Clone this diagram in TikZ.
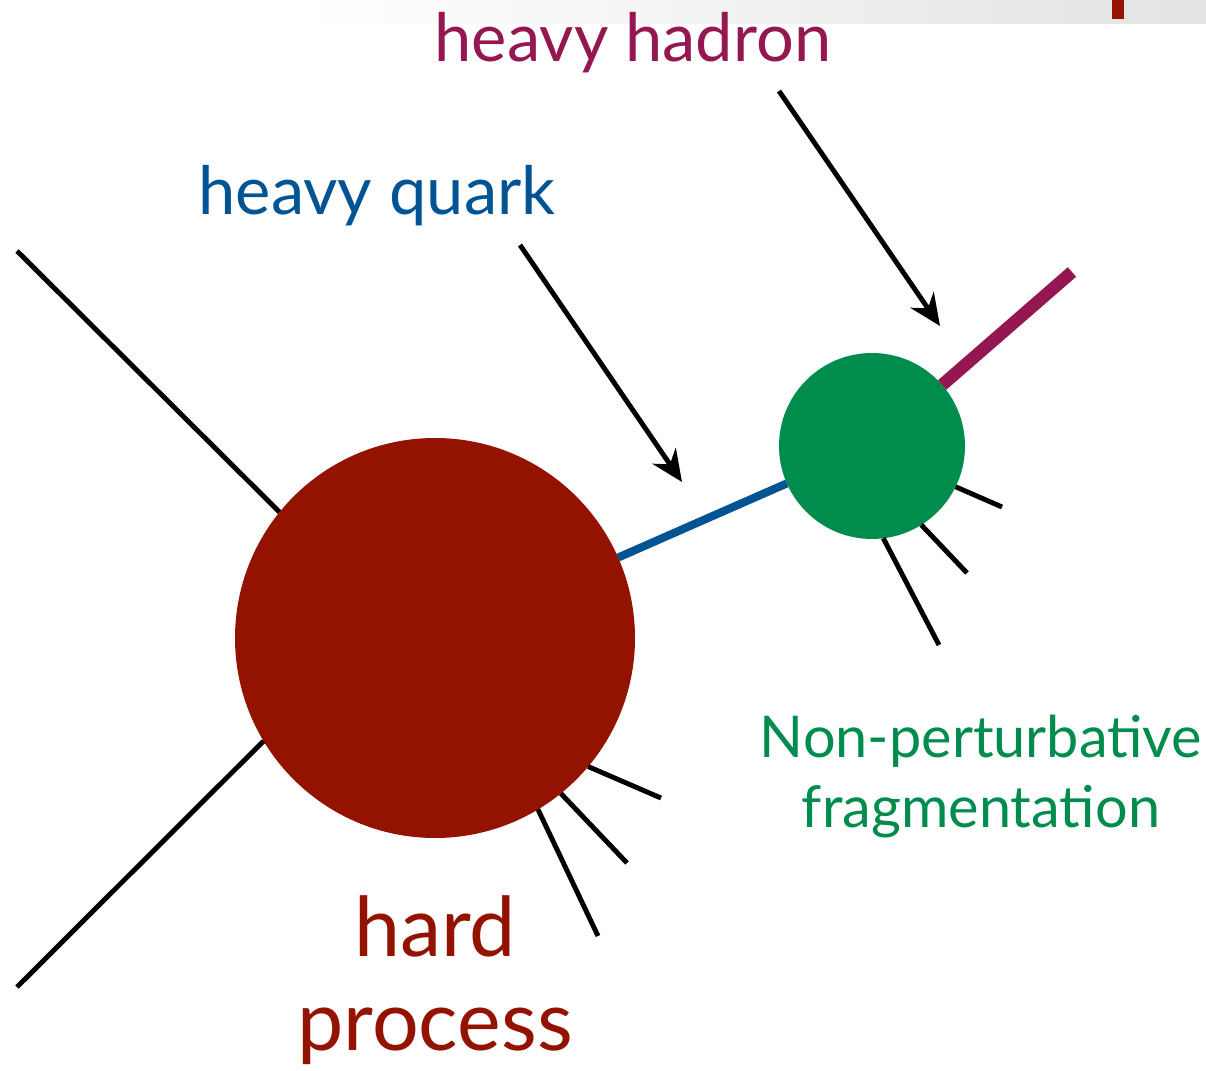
\documentclass[tikz,border=0pt]{standalone}
\usepackage{fontspec}
\setmainfont{Lato}
\usetikzlibrary{arrows.meta}
\definecolor{HardRed}{RGB}{147,18,0}
\definecolor{FragGreen}{RGB}{0,140,76}
\definecolor{QuarkBlue}{RGB}{0,84,147}
\definecolor{HadronPurple}{RGB}{148,23,81}

\begin{document}
\begin{tikzpicture}[
  blob/.style={
    circle,
    draw=none,
    inner sep=0pt,
    outer sep=0pt
  },
  hardblob/.style={blob, fill=HardRed, minimum size=4.0cm},
  fragblob/.style={blob, fill=FragGreen, minimum size=1.86cm},
  leg/.style={line width=1.4pt, black},
  quark/.style={line width=2.3pt, QuarkBlue},
  hadron/.style={line width=3.6pt, HadronPurple},
  pointer/.style={
    -{Stealth[length=9pt, width=8pt]},
    line width=1.4pt,
    black
  },
  label/.style={anchor=base, align=center, inner sep=0pt}
]
\useasboundingbox (0,0) rectangle (12.06,10.70);

% Slide header strip
\shade[left color=white, right color=black!11] (3.0,10.46) rectangle (12.06,10.70);
\fill[HardRed] (11.12,10.51) rectangle (11.24,10.70);

% Blobs
\node[hardblob] (hard) at (4.35,4.32) {};
\node[fragblob] (frag) at (8.72,6.24) {};

% Free ends
\coordinate (inA)   at (0.17,8.19);
\coordinate (inB)   at (0.17,0.83);
\coordinate (hadA)  at (10.72,7.98);
\coordinate (jetA)  at (6.61,2.72);
\coordinate (jetB)  at (6.27,2.07);
\coordinate (jetC)  at (5.98,1.34);
\coordinate (remA)  at (10.02,5.63);
\coordinate (remB)  at (9.67,4.97);
\coordinate (remC)  at (9.39,4.25);
\coordinate (qtail) at (5.20,8.25);
\coordinate (qhead) at (6.82,5.88);
\coordinate (htail) at (7.79,9.79);
\coordinate (hhead) at (9.40,7.44);

% Incoming legs
\draw[leg] (inA) -- (hard.141.6);
\draw[leg] (inB) -- (hard.211);

% Radiation off the hard process
\draw[leg] (hard.-40.9) -- (jetA);
\draw[leg] (hard.-51.6) -- (jetB);
\draw[leg] (hard.-59.8) -- (jetC);

% Quark and hadron lines
\draw[quark] (hard) -- (frag);
\draw[hadron] (frag) -- (hadA);

% Fragmentation remnants
\draw[leg] (frag.-26.8) -- (remA);
\draw[leg] (frag.-58.4) -- (remB);
\draw[leg] (frag.-83.2) -- (remC);

% Labels (two-line labels sit on their last baseline)
\node[label, text=HadronPurple, font=\fontsize{19}{23}\selectfont] (hadlbl) at (6.33,10.08) {heavy hadron};
\node[label, text=QuarkBlue, font=\fontsize{19}{23}\selectfont] (qlbl) at (3.77,8.55) {heavy quark};
\node[label, text=HardRed, font=\fontsize{23.5}{26.7}\selectfont] (hardlbl) at (4.35,0.20) {hard\\process};
\node[label, text=FragGreen, font=\fontsize{16.4}{19.9}\selectfont] (fraglbl) at (9.81,2.43) {Non-perturbative\\fragmentation};

% Pointers
\draw[pointer] (qtail) -- (qhead);
\draw[pointer] (htail) -- (hhead);

\end{tikzpicture}
\end{document}
